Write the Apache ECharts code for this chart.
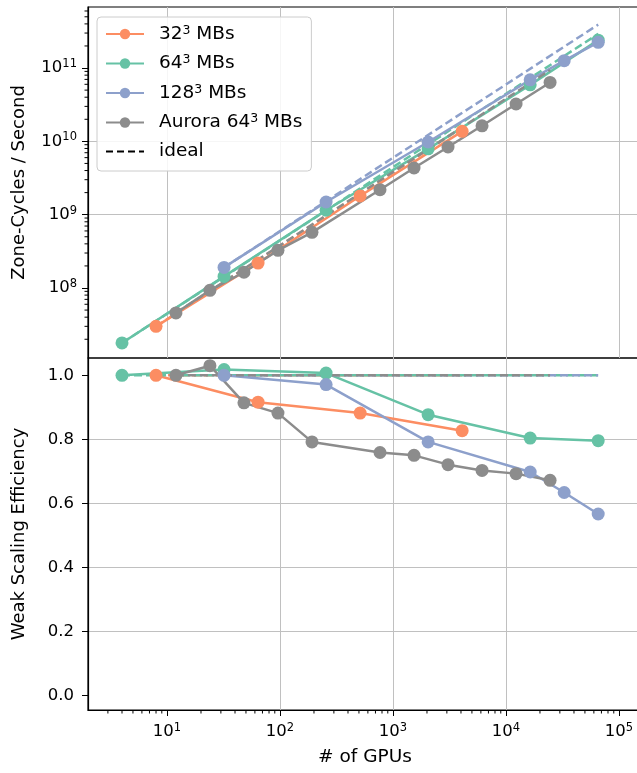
<!DOCTYPE html>
<html><head><meta charset="utf-8">
<script src="https://cdn.jsdelivr.net/npm/echarts@6/dist/echarts.min.js"></script>
<style>html,body{margin:0;padding:0;background:#fff}#c{width:637px;height:773px}</style>
</head><body><div id="c"></div>
<script>
// ---- data ----
const names = ['32³ MBs', '64³ MBs', '128³ MBs', 'Aurora 64³ MBs'];
const colors = ['#fc8d62', '#66c2a5', '#8da0cb', '#8c8c8c'];

const gpus32 = [8, 64, 512, 4096];
const rate32 = [3.0e7, 2.19e8, 1.8e9, 1.37e10];
const eff32 = [1.0, 0.916, 0.882, 0.827];

const gpus64 = [4, 32, 256, 2048, 16384, 65536];
const rate64 = [1.78e7, 1.44e8, 1.15e9, 7.9e9, 5.9e10, 2.4e11];
const eff64 = [1.0, 1.018, 1.007, 0.877, 0.804, 0.796];

const gpus128 = [32, 256, 2048, 16384, 32768, 65536];
const rate128 = [1.91e8, 1.49e9, 9.8e9, 6.9e10, 1.26e11, 2.24e11];
const eff128 = [1.0, 0.971, 0.792, 0.698, 0.634, 0.567];

const gpusAurora = [12, 24, 48, 96, 192, 768, 1536, 3072, 6144, 12288, 24576];
const rateAurora = [4.57e7, 9.3e7, 1.64e8, 3.26e8, 5.74e8, 2.19e9, 4.33e9, 8.37e9, 1.63e10, 3.23e10, 6.36e10];
const effAurora = [1.0, 1.030, 0.914, 0.882, 0.792, 0.759, 0.750, 0.721, 0.703, 0.693, 0.672];

// ideal (dashed) lines: value at first and last GPU count
const ideal32 = [3.0e7, 1.54e10];
const ideal64 = [1.78e7, 2.92e11];
const ideal128 = [1.91e8, 3.91e11];
const idealAurora = [4.57e7, 9.36e10];
const idealEff = [1.0, 1.0];

// tick values
const xMajorTicks = [10, 100, 1000, 10000, 100000];
const yTopMajorTicks = [1e8, 1e9, 1e10, 1e11];
const yBotTicks = [0.0, 0.2, 0.4, 0.6, 0.8, 1.0];
const minorDigits = [2, 3, 4, 5, 6, 7, 8, 9];

// ---- build ----
const FONT = 'DejaVu Sans';
const groups = [
  [gpus32, rate32, eff32, ideal32],
  [gpus64, rate64, eff64, ideal64],
  [gpus128, rate128, eff128, ideal128],
  [gpusAurora, rateAurora, effAurora, idealAurora]
];
const X_MIN = 2, X_MAX = 1.6e5;
const YT_MIN = 1.11e7, YT_MAX = 6.8e11;
const YB_MIN = -0.045, YB_MAX = 1.054;
const LW = 2.5, MS = 13, DASH = [8, 4];
const GRID_LEFT = 88, GRID_TOP = 7, GRID_W = 554, TOP_H = 351, BOT_H = 352;
const MINOR_LEN = 3.5;

function minorIn(lo, hi) {
  const out = [];
  for (let e = -1; e <= 12; e++) {
    for (const d of minorDigits) {
      const v = d * Math.pow(10, e);
      if (v > lo && v < hi) out.push(v);
    }
  }
  return out;
}
function sup(v) {
  return '{b|10}{s|' + Math.round(Math.log10(v)) + '}';
}
const richTick = {
  b: { fontFamily: FONT, fontSize: 16.5, color: '#000', lineHeight: 20 },
  s: { fontFamily: FONT, fontSize: 11.5, color: '#000', lineHeight: 11, verticalAlign: 'top' }
};

const series = [];
groups.forEach((g, i) => {
  const [gx, rate, eff, ideal] = g;
  const n = gx.length;
  series.push({
    name: names[i], type: 'line', xAxisIndex: 0, yAxisIndex: 0,
    data: gx.map((x, k) => [x, rate[k]]),
    symbol: 'circle', symbolSize: MS, showAllSymbol: true,
    lineStyle: { color: colors[i], width: LW }, itemStyle: { color: colors[i] },
    emphasis: { disabled: true }, z: 3
  });
  series.push({
    name: 'ideal-' + i, type: 'line', xAxisIndex: 0, yAxisIndex: 0,
    data: [[gx[0], ideal[0]], [gx[n - 1], ideal[1]]],
    symbol: 'none', lineStyle: { color: colors[i], width: LW, type: DASH },
    itemStyle: { color: colors[i] }, emphasis: { disabled: true }, z: 3
  });
  series.push({
    name: names[i], type: 'line', xAxisIndex: 1, yAxisIndex: 1,
    data: gx.map((x, k) => [x, eff[k]]),
    symbol: 'circle', symbolSize: MS, showAllSymbol: true,
    lineStyle: { color: colors[i], width: LW }, itemStyle: { color: colors[i] },
    emphasis: { disabled: true }, z: 3
  });
  series.push({
    name: 'ideal-eff-' + i, type: 'line', xAxisIndex: 1, yAxisIndex: 1,
    data: [[gx[0], idealEff[0]], [gx[n - 1], idealEff[1]]],
    symbol: 'none', lineStyle: { color: colors[i], width: LW, type: DASH },
    itemStyle: { color: colors[i] }, emphasis: { disabled: true }, z: 3
  });
});
series.push({
  name: 'ideal', type: 'line', xAxisIndex: 0, yAxisIndex: 0, data: [],
  symbol: 'none', lineStyle: { color: '#000', width: LW, type: [7, 4] }, itemStyle: { color: '#000' }
});

const gridLine = { show: true, showMinLine: false, showMaxLine: false, lineStyle: { color: '#c0c0c0', width: 1 } };
const tickStyle = { lineStyle: { color: '#000', width: 1 } };

const option = {
  animation: false,
  backgroundColor: '#fff',
  grid: [
    { left: GRID_LEFT, top: GRID_TOP, width: GRID_W, height: TOP_H, show: true, borderColor: '#000', borderWidth: 1.2, backgroundColor: 'transparent', outerBoundsMode: 'none', containLabel: false },
    { left: GRID_LEFT, top: GRID_TOP + TOP_H, width: GRID_W, height: BOT_H, show: true, borderColor: '#000', borderWidth: 1.2, backgroundColor: 'transparent', outerBoundsMode: 'none', containLabel: false }
  ],
  xAxis: [
    { type: 'log', gridIndex: 0, min: X_MIN, max: X_MAX, logBase: 10, position: 'bottom',
      axisLine: { show: false, onZero: false }, axisTick: { show: false }, axisLabel: { show: false },
      splitLine: gridLine },
    { type: 'log', gridIndex: 1, min: X_MIN, max: X_MAX, logBase: 10, position: 'bottom',
      axisLine: { show: true, onZero: false, lineStyle: { color: '#000', width: 1.2 } },
      axisTick: Object.assign({ show: true, length: 6, customValues: xMajorTicks }, tickStyle),
      axisLabel: { show: true, customValues: xMajorTicks, margin: 12, formatter: sup, rich: richTick },
      splitLine: gridLine,
      name: '# of GPUs', nameLocation: 'middle', nameGap: 38,
      nameTextStyle: { fontFamily: FONT, fontSize: 18.5, color: '#000' } }
  ],
  yAxis: [
    { type: 'log', gridIndex: 0, min: YT_MIN, max: YT_MAX, logBase: 10, position: 'left',
      axisLine: { show: true, onZero: false, lineStyle: { color: '#000', width: 1.2 } },
      axisTick: Object.assign({ show: true, length: 6, customValues: yTopMajorTicks }, tickStyle),
      axisLabel: { show: true, customValues: yTopMajorTicks, margin: 11, formatter: sup, rich: richTick },
      splitLine: gridLine,
      name: 'Zone-Cycles / Second', nameLocation: 'middle', nameGap: 60,
      nameTextStyle: { fontFamily: FONT, fontSize: 18, color: '#000' } },
    { type: 'value', gridIndex: 1, min: YB_MIN, max: YB_MAX, position: 'left',
      axisLine: { show: true, onZero: false, lineStyle: { color: '#000', width: 1.2 } },
      axisTick: Object.assign({ show: true, length: 6, customValues: yBotTicks }, tickStyle),
      axisLabel: { show: true, customValues: yBotTicks, margin: 14, fontFamily: FONT, fontSize: 16.5, color: '#000',
        formatter: v => v.toFixed(1) },
      splitLine: gridLine,
      name: 'Weak Scaling Efficiency', nameLocation: 'middle', nameGap: 60,
      nameTextStyle: { fontFamily: FONT, fontSize: 18, color: '#000' } }
  ],
  legend: {
    show: true, orient: 'vertical', left: 97, top: 17,
    data: names.map(n => ({ name: n })).concat([{ name: 'ideal', itemStyle: { opacity: 0 } }]),
    padding: [7, 9, 10, 8], itemGap: 10, itemWidth: 38, itemHeight: 13,
    backgroundColor: 'rgba(255,255,255,0.85)', borderColor: '#cccccc', borderWidth: 1, borderRadius: 4,
    formatter: nm => nm.replace('³', '{s|3}').replace(/(^|})([^{]+)/g, (m, a, b) => a + '{t|' + b + '}'),
    textStyle: {
      fontFamily: FONT, fontSize: 18.5, color: '#000', padding: [0, 0, 0, 10],
      rich: {
        t: { fontFamily: FONT, fontSize: 18.5, color: '#000', lineHeight: 20 },
        s: { fontFamily: FONT, fontSize: 12.5, color: '#000', lineHeight: 12, verticalAlign: 'top' }
      }
    },
    selectedMode: false
  },
  series: series
};
const chart = echarts.init(document.getElementById('c'), null, { renderer: 'canvas' });
chart.setOption(option);

// minor log ticks (2..9 per decade), placed through the chart's own axis scales
function addMinorTicks() {
  try {
    const zr = chart.getZr();
    const group = new echarts.graphic.Group();
    const yEdge = chart.convertToPixel({ yAxisIndex: 1 }, YB_MIN);
    minorIn(X_MIN, X_MAX).forEach(v => {
      const px = chart.convertToPixel({ xAxisIndex: 1 }, v);
      if (isFinite(px) && isFinite(yEdge)) {
        group.add(new echarts.graphic.Line({
          shape: { x1: px, y1: yEdge, x2: px, y2: yEdge + MINOR_LEN },
          style: { stroke: '#000', lineWidth: 1 }, silent: true, z: 100
        }));
      }
    });
    const xEdge = chart.convertToPixel({ xAxisIndex: 0 }, X_MIN);
    minorIn(YT_MIN, YT_MAX).forEach(v => {
      const py = chart.convertToPixel({ yAxisIndex: 0 }, v);
      if (isFinite(py) && isFinite(xEdge)) {
        group.add(new echarts.graphic.Line({
          shape: { x1: xEdge - MINOR_LEN, y1: py, x2: xEdge, y2: py },
          style: { stroke: '#000', lineWidth: 1 }, silent: true, z: 100
        }));
      }
    });
    zr.add(group);
    zr.refreshImmediately && zr.refreshImmediately();
  } catch (e) { /* keep the chart even if the minor ticks fail */ }
}
addMinorTicks();
</script>
</body></html>
